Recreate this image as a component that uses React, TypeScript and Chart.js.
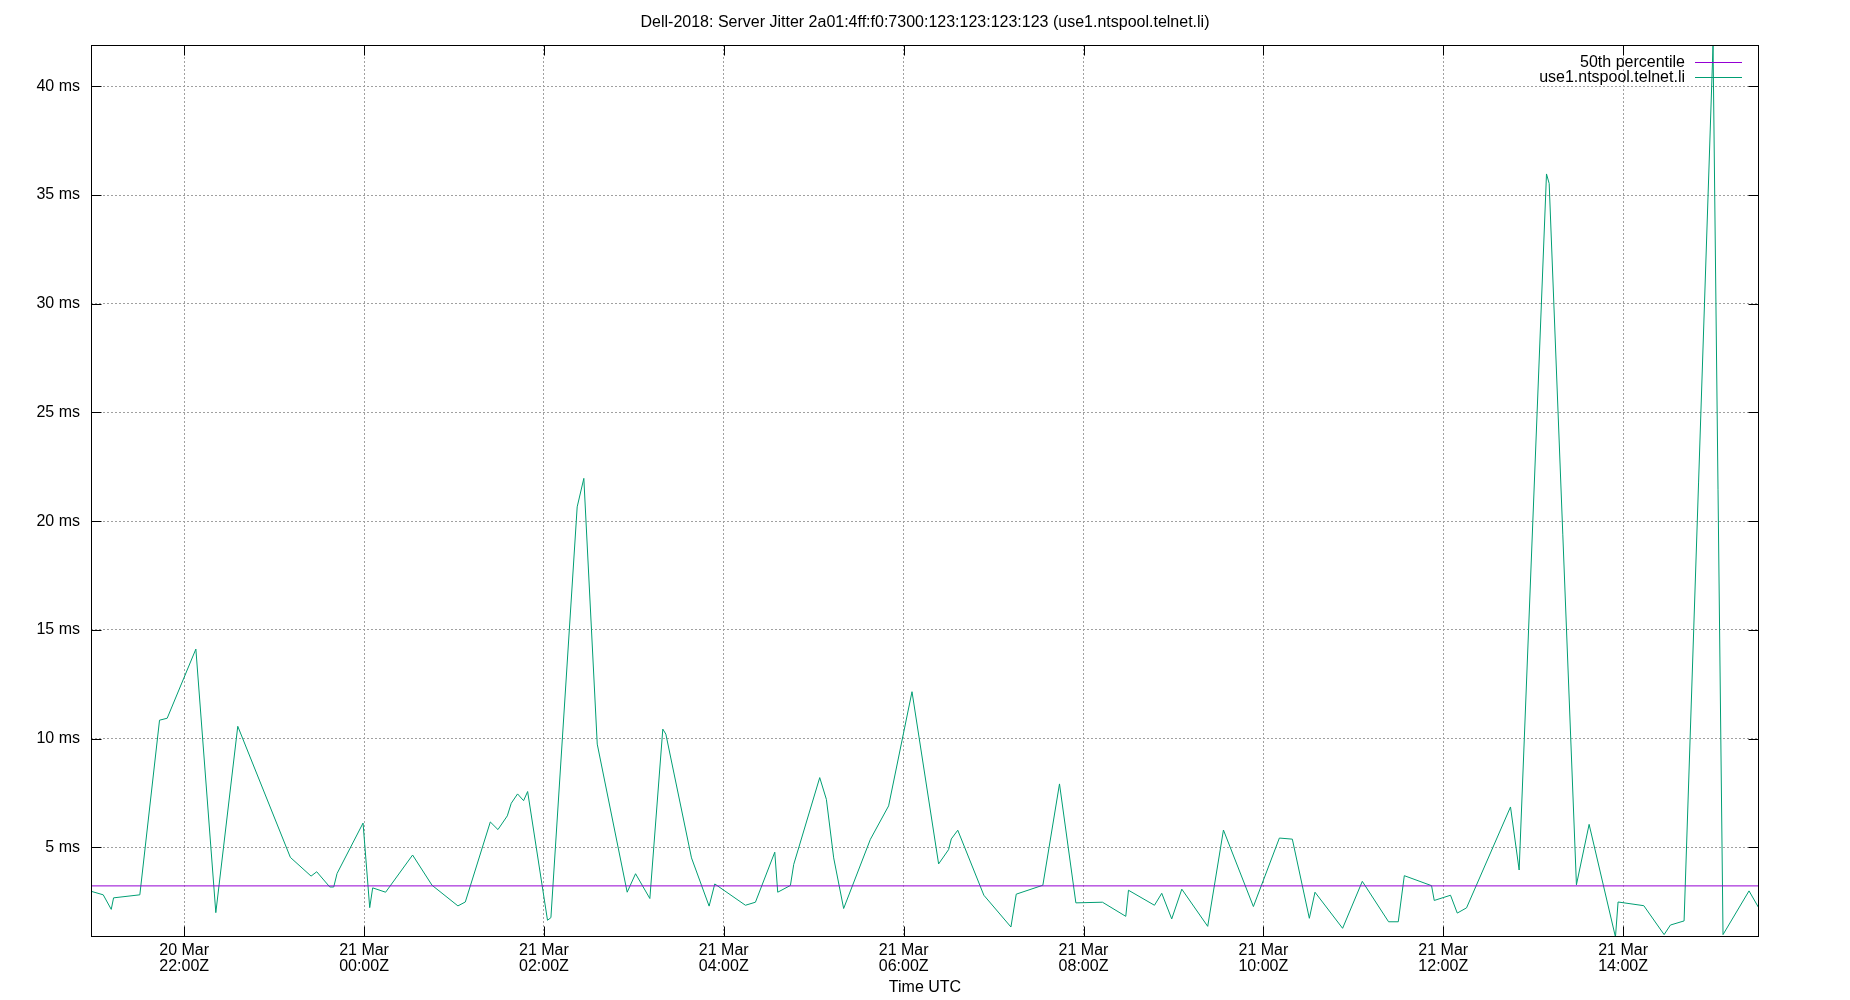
import React, { useEffect, useRef } from "react";
import { Chart, registerables } from "chart.js";

Chart.register(...registerables);

// Time in hours since 20 Mar 00:00Z (values >= 24 are on 21 Mar)
const jitterHours = [
  20.967, 21.1, 21.189, 21.215, 21.507, 21.726, 21.811, 22.13, 22.352, 22.596,
  23.181, 23.411, 23.474, 23.619, 23.663, 23.7, 23.989, 24.063, 24.096, 24.24,
  24.54, 24.756, 25.044, 25.126, 25.404, 25.489, 25.593, 25.637, 25.707, 25.774,
  25.819, 26.04, 26.078, 26.37, 26.444, 26.593, 26.926, 27.019, 27.178, 27.322,
  27.356, 27.641, 27.837, 27.9, 28.241, 28.352, 28.567, 28.6, 28.741, 28.778,
  29.067, 29.141, 29.222, 29.333, 29.63, 29.833, 30.093, 30.389, 30.5, 30.53,
  30.602, 30.892, 31.193, 31.252, 31.548, 31.733, 31.915, 32.211, 32.47, 32.5,
  32.789, 32.87, 32.981, 33.093, 33.381, 33.556, 33.889, 34.178, 34.322, 34.511,
  34.574, 34.881, 35.1, 35.392, 35.5, 35.567, 35.87, 35.9, 36.081, 36.156,
  36.259, 36.748, 36.844, 37.148, 37.178, 37.481, 37.622, 37.915, 37.944, 38.23,
  38.456, 38.526, 38.678, 39.0, 39.111, 39.4, 39.511,
];

// Server jitter in ms
const jitterMs = [
  2.98, 2.82, 2.15, 2.68, 2.82, 10.85, 10.94, 14.12, 2.0, 10.57,
  4.54, 3.68, 3.88, 3.18, 3.18, 3.8, 6.12, 2.23, 3.14, 2.94,
  4.65, 3.26, 2.31, 2.49, 6.17, 5.82, 6.45, 7.03, 7.46, 7.15,
  7.57, 1.65, 1.77, 20.66, 21.97, 9.75, 2.94, 3.79, 2.65, 10.44,
  10.21, 4.52, 2.3, 3.32, 2.34, 2.48, 4.78, 2.94, 3.25, 4.22,
  8.21, 7.21, 4.52, 2.19, 5.37, 6.91, 12.16, 4.24, 4.9, 5.39,
  5.79, 2.8, 1.34, 2.85, 3.26, 7.92, 2.45, 2.48, 1.83, 3.03,
  2.34, 2.89, 1.71, 3.08, 1.37, 5.8, 2.28, 5.43, 5.38, 1.74,
  2.94, 1.28, 3.44, 1.58, 1.58, 3.7, 3.24, 2.56, 2.8, 1.98,
  2.22, 6.86, 3.96, 35.97, 35.53, 3.28, 6.06, 0.88, 2.49, 2.32,
  0.99, 1.43, 1.62, 41.9, 0.99, 3.0, 2.2,
];

const medianMs = 3.23;
const xMin = 20.964;
const xMax = 39.511;
const yMin = 0.88;
const yMax = 41.9;
const xTickHours = [22, 24, 26, 28, 30, 32, 34, 36, 38];
const yTickValues = [5, 10, 15, 20, 25, 30, 35, 40];
const titleText =
  "Dell-2018: Server Jitter 2a01:4ff:f0:7300:123:123:123:123 (use1.ntspool.telnet.li)";
const xAxisTitle = "Time UTC";
const seriesLabels = ["50th percentile", "use1.ntspool.telnet.li"];
const seriesColors = ["#9400d3", "#009e73"];

const FONT = '"Liberation Sans", Arial, sans-serif';

const decorPlugin = {
  id: "gnuplotDecor",
  afterDraw(chart: any) {
    const { ctx, chartArea: a, scales } = chart;
    const L = Math.round(a.left) + 0.5;
    const R = Math.round(a.right) - 0.5;
    const T = Math.round(a.top) + 0.5;
    const B = Math.round(a.bottom) - 0.5;
    ctx.save();
    ctx.strokeStyle = "#000";
    ctx.lineWidth = 1;
    ctx.setLineDash([]);
    ctx.strokeRect(L, T, R - L, B - T);
    const tl = 10;
    ctx.beginPath();
    xTickHours.forEach((v) => {
      const px = Math.round(scales.x.getPixelForValue(v)) + 0.5;
      ctx.moveTo(px, B);
      ctx.lineTo(px, B - tl);
      ctx.moveTo(px, T);
      ctx.lineTo(px, T + tl);
    });
    yTickValues.forEach((v) => {
      const py = Math.round(scales.y.getPixelForValue(v)) + 0.5;
      ctx.moveTo(L, py);
      ctx.lineTo(L + tl, py);
      ctx.moveTo(R, py);
      ctx.lineTo(R - tl, py);
    });
    ctx.stroke();

    ctx.fillStyle = "#000";
    ctx.font = `16px ${FONT}`;
    ctx.textBaseline = "middle";
    ctx.textAlign = "center";
    const cx = (a.left + a.right) / 2;
    ctx.fillText(titleText, cx, 23);
    ctx.fillText(xAxisTitle, cx, 988);

    ctx.textAlign = "right";
    seriesLabels.forEach((lab, i) => {
      const y = a.top + 17 + i * 15;
      ctx.fillStyle = "#000";
      ctx.fillText(lab, a.right - 74, y + 1);
      ctx.strokeStyle = seriesColors[i];
      ctx.beginPath();
      ctx.moveTo(a.right - 64, Math.round(y) + 0.5);
      ctx.lineTo(a.right - 17, Math.round(y) + 0.5);
      ctx.stroke();
    });
    ctx.restore();
  },
};

export default function App() {
  const canvasRef = useRef<HTMLCanvasElement | null>(null);

  useEffect(() => {
    document.body.style.margin = "0";
    const canvas = canvasRef.current;
    if (!canvas) return;
    const jitterData = jitterHours.map((h, i) => ({ x: h, y: jitterMs[i] }));
    const medianData = [
      { x: xMin, y: medianMs },
      { x: xMax, y: medianMs },
    ];
    const chart = new Chart(canvas, {
      type: "line",
      data: {
        datasets: [
          {
            label: seriesLabels[0],
            data: medianData,
            borderColor: seriesColors[0],
            borderWidth: 1,
            pointRadius: 0,
            tension: 0,
          },
          {
            label: seriesLabels[1],
            data: jitterData,
            borderColor: seriesColors[1],
            borderWidth: 1,
            pointRadius: 0,
            tension: 0,
          },
        ],
      },
      options: {
        animation: false,
        responsive: false,
        maintainAspectRatio: false,
        devicePixelRatio: 1,
        layout: { padding: { top: 45, right: 91, left: 0, bottom: 0 } },
        plugins: {
          legend: { display: false },
          tooltip: { enabled: false },
          title: { display: false },
        },
        scales: {
          x: {
            type: "linear",
            min: xMin,
            max: xMax,
            afterBuildTicks: (scale: any) => {
              scale.ticks = xTickHours.map((v) => ({ value: v }));
            },
            afterFit: (scale: any) => {
              scale.height = 63;
            },
            grid: { color: "#a0a0a0", lineWidth: 1, drawTicks: false },
            border: { display: false, dash: [2, 2] },
            ticks: {
              autoSkip: false,
              maxRotation: 0,
              minRotation: 0,
              padding: 6,
              color: "#000",
              font: { family: FONT, size: 16, lineHeight: 1.0 },
              callback: (v: any) => {
                const val = Number(v);
                const day = val >= 24 ? 21 : 20;
                const hh = String(val % 24).padStart(2, "0");
                return [`${day} Mar`, `${hh}:00Z`];
              },
            },
          },
          y: {
            type: "linear",
            min: yMin,
            max: yMax,
            afterBuildTicks: (scale: any) => {
              scale.ticks = yTickValues.map((v) => ({ value: v }));
            },
            afterFit: (scale: any) => {
              scale.width = 91;
            },
            grid: { color: "#a0a0a0", lineWidth: 1, drawTicks: false },
            border: { display: false, dash: [2, 2] },
            ticks: {
              padding: 11,
              color: "#000",
              font: { family: FONT, size: 16 },
              callback: (v: any) => `${v} ms`,
            },
          },
        },
      },
      plugins: [decorPlugin],
    });
    return () => chart.destroy();
  }, []);

  return (
    <div style={{ position: "absolute", left: 0, top: 0, width: 1850, height: 1000 }}>
      <canvas ref={canvasRef} width={1850} height={1000} style={{ width: 1850, height: 1000 }} />
    </div>
  );
}
